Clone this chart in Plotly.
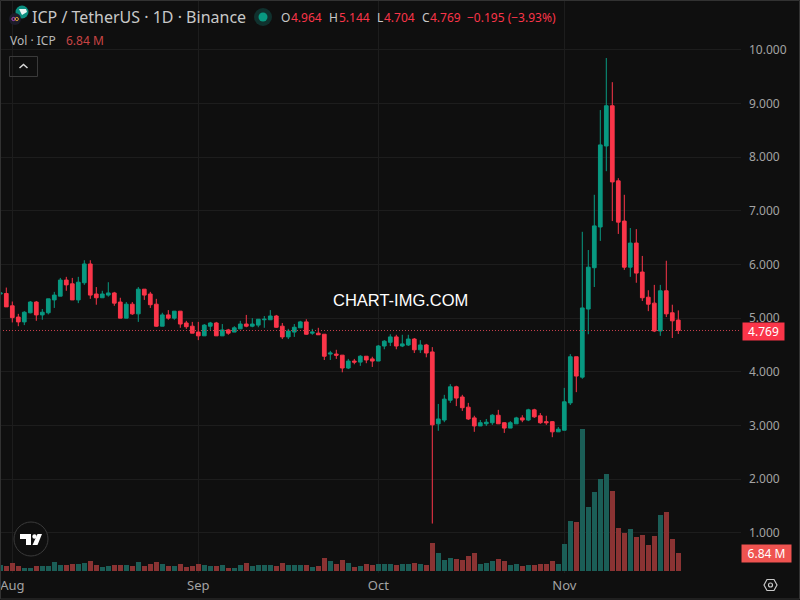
import plotly.graph_objects as go
import pandas as pd

start_date = "2025-07-30"

opens = [5.45, 5.46, 5.23, 5.02, 4.93, 5.10, 5.30, 5.06, 5.10, 5.34, 5.41, 5.71, 5.64, 5.34, 5.66, 6.01,
         5.45, 5.38, 5.43, 5.47, 5.30, 5.00, 5.26, 5.08, 5.54, 5.45, 5.26, 4.85, 5.06, 5.00, 5.13, 4.91, 4.85,
         4.74, 4.67, 4.85, 4.91, 4.67, 4.78, 4.74, 4.80, 4.89, 4.85, 4.87, 4.97, 4.97, 5.04, 4.85, 4.65, 4.74,
         4.82, 4.93, 4.72, 4.72, 4.70, 4.33, 4.33, 4.31, 4.07, 4.20, 4.18, 4.29, 4.24,
         4.20, 4.48, 4.55, 4.65, 4.48, 4.50, 4.61, 4.41, 4.50, 4.37, 3.03, 3.10, 3.47, 3.72, 3.53, 3.34, 3.14,
         2.99, 3.03, 3.05, 3.19, 3.05, 2.95, 3.03, 3.14, 3.10, 3.29, 3.18, 3.07, 3.07, 2.88,
         2.91, 3.42, 4.28, 3.90, 5.17, 5.94, 6.70, 8.21, 8.96, 7.56, 6.81, 5.95, 6.40, 5.86, 5.39, 5.28, 4.76,
         5.51, 5.10, 4.964]
highs = [5.47, 5.57, 5.31, 5.08, 5.13, 5.32, 5.32, 5.17, 5.36, 5.49, 5.75, 5.77, 5.75, 5.77, 6.08, 6.08,
         5.58, 5.51, 5.67, 5.49, 5.38, 5.30, 5.30, 5.58, 5.54, 5.49, 5.36, 5.10, 5.15, 5.13, 5.13, 4.95, 4.93,
         4.93, 4.89, 4.93, 4.93, 4.89, 4.80, 4.85, 4.95, 5.06, 5.00, 4.98, 5.04, 5.15, 5.06, 4.91, 4.80, 4.89,
         4.95, 4.98, 4.80, 4.82, 4.70, 4.39, 4.41, 4.31, 4.24, 4.24, 4.31, 4.29, 4.28,
         4.50, 4.59, 4.70, 4.69, 4.69, 4.69, 4.63, 4.59, 4.52, 4.46, 3.40, 3.57, 3.77, 3.74, 3.57, 3.42, 3.18,
         3.10, 3.12, 3.21, 3.29, 3.06, 3.08, 3.16, 3.19, 3.31, 3.31, 3.23, 3.18, 3.08, 2.97,
         3.70, 4.33, 4.28, 6.61, 6.27, 7.30, 8.88, 9.85, 9.40, 7.61, 7.30, 6.68, 6.66, 6.16, 5.52, 5.62, 5.62,
         6.07, 5.25, 5.144]
lows = [5.45, 5.21, 4.92, 4.85, 4.87, 5.09, 4.95, 4.97, 5.07, 5.19, 5.41, 5.51, 5.34, 5.28, 5.62, 5.36,
        5.25, 5.38, 5.40, 5.23, 5.00, 5.00, 5.06, 4.93, 5.34, 5.19, 4.84, 4.85, 4.97, 4.97, 4.82, 4.80, 4.72,
        4.59, 4.67, 4.78, 4.67, 4.67, 4.69, 4.74, 4.80, 4.83, 4.83, 4.83, 4.82, 4.97, 4.82, 4.61, 4.61, 4.65,
        4.82, 4.69, 4.69, 4.69, 4.22, 4.22, 4.24, 3.99, 4.05, 4.14, 4.11, 4.16, 4.09,
        4.20, 4.42, 4.48, 4.42, 4.46, 4.48, 4.35, 4.35, 4.27, 1.17, 2.90, 3.06, 3.42, 3.36, 3.27, 3.10, 2.88,
        2.99, 2.99, 3.01, 3.03, 2.86, 2.95, 3.03, 3.06, 3.08, 3.14, 3.03, 3.01, 2.78, 2.88,
        2.91, 3.38, 3.62, 3.87, 4.70, 5.58, 6.44, 7.74, 6.81, 6.57, 5.90, 5.77, 5.66, 5.32, 5.13, 4.74, 4.67,
        5.02, 4.63, 4.704]
closes = [5.47, 5.21, 5.01, 4.93, 5.11, 5.30, 5.06, 5.11, 5.36, 5.43, 5.71, 5.62, 5.34, 5.67, 6.01, 5.43,
          5.38, 5.45, 5.47, 5.28, 5.00, 5.26, 5.08, 5.54, 5.43, 5.25, 4.85, 5.06, 5.00, 5.13, 4.89, 4.84, 4.72,
          4.67, 4.87, 4.91, 4.67, 4.78, 4.72, 4.82, 4.89, 4.85, 4.89, 4.98, 4.98, 5.04, 4.83, 4.65, 4.76, 4.83,
          4.93, 4.70, 4.74, 4.69, 4.29, 4.35, 4.31, 4.07, 4.20, 4.18, 4.29, 4.22, 4.20,
          4.48, 4.57, 4.65, 4.48, 4.52, 4.61, 4.41, 4.50, 4.35, 3.01, 3.12, 3.49, 3.72, 3.51, 3.33, 3.12, 2.99,
          3.05, 3.06, 3.19, 3.03, 2.95, 3.05, 3.14, 3.10, 3.29, 3.16, 3.05, 3.05, 2.88, 2.93,
          3.44, 4.28, 3.92, 5.19, 5.95, 6.72, 8.23, 8.96, 7.54, 6.79, 5.95, 6.40, 5.84, 5.38, 5.26, 4.76, 5.51,
          5.08, 4.95, 4.769]
volumes = [2.28, 1.90, 3.04, 1.90, 1.14, 1.14, 1.90, 1.90, 1.90, 3.42, 2.28, 2.28, 2.66, 2.66, 3.04, 3.80,
           2.28, 1.52, 1.90, 2.28, 2.28, 2.28, 1.90, 3.42, 1.90, 2.66, 3.42, 2.66, 1.90, 1.90, 2.66, 1.52, 1.90,
           2.66, 2.28, 1.90, 1.90, 2.28, 1.14, 1.14, 2.28, 3.04, 1.90, 2.28, 2.28, 2.28, 1.90, 3.04, 2.28, 2.28,
           2.28, 2.28, 1.52, 1.90, 4.94, 3.80, 2.66, 4.18, 3.04, 1.52, 1.90, 2.66, 2.28,
           2.66, 2.66, 2.66, 2.28, 2.66, 2.66, 3.04, 2.66, 2.28, 10.64, 6.84, 4.18, 4.94, 4.56, 4.18, 5.70, 6.84,
           2.66, 3.04, 3.80, 4.56, 3.80, 2.28, 2.66, 1.90, 2.28, 2.28, 2.66, 2.66, 3.80, 2.66,
           10.26, 19.0, 18.6, 54.0, 24.3, 30.0, 35.0, 36.9, 30.4, 16.3, 14.4, 16.0, 12.9, 13.7, 9.9, 13.3, 21.3,
           22.4, 12.2, 6.84]

price_ticks = [1, 2, 3, 4, 5, 6, 7, 8, 9, 10]
price_labels = ["1.000", "2.000", "3.000", "4.000", "5.000", "6.000", "7.000", "8.000", "9.000", "10.000"]
month_ticks = ["2025-08-01", "2025-09-01", "2025-10-01", "2025-11-01"]
month_labels = ["Aug", "Sep", "Oct", "Nov"]

dates = pd.date_range(start_date, periods=len(closes), freq="D")

GREEN = "#089981"
RED = "#FA3549"
GREY = "#a3a3a3"
FONT = "Noto Sans"

# pane is 741x573, everything decorative is placed in screen pixels
PANE_W = 741
PANE_H = 573


def px(x):
    return x / PANE_W


def py(y):
    return 1 - y / PANE_H


def circle(cx, cy, r, **kw):
    return dict(type="circle", xref="paper", yref="paper", x0=px(cx - r), x1=px(cx + r),
                y0=py(cy - r), y1=py(cy + r), **kw)


def poly(points, **kw):
    path = "M " + " L ".join(f"{px(x):.5f} {py(y):.5f}" for x, y in points) + " Z"
    return dict(type="path", xref="paper", yref="paper", path=path, **kw)


def label(x, y, text, color=GREY, size=12, anchor="left", **kw):
    return dict(xref="paper", yref="paper", x=px(x), y=py(y), text=text, showarrow=False,
                xanchor=anchor, yanchor="middle",
                font=dict(family=FONT, size=size, color=color), **kw)


fig = go.Figure()

fig.add_trace(go.Bar(
    x=dates, y=volumes, yaxis="y",
    marker=dict(color=["#1B5E57" if c >= o else "#8A3333" for o, c in zip(opens, closes)], line_width=0),
    width=5 * 86400000 / 6,
    showlegend=False,
))
fig.add_trace(go.Candlestick(
    x=dates, open=opens, high=highs, low=lows, close=closes, yaxis="y2",
    increasing=dict(line=dict(color=GREEN, width=1), fillcolor=GREEN),
    decreasing=dict(line=dict(color=RED, width=1), fillcolor=RED),
    whiskerwidth=0,
    showlegend=False,
))

shapes = [
    # last price line
    dict(type="line", xref="paper", yref="y2", x0=0, x1=1, y0=closes[-1], y1=closes[-1],
         line=dict(color="#C9414E", width=1, dash="1px,2px")),
    # frame
    poly([(0.5, 0.5), (799.5, 0.5), (799.5, 599), (0.5, 599)], line=dict(color="#333333", width=1)),
    # symbol logos
    circle(22, 12, 6.5, fillcolor="#0b8f80", line_width=0),
    poly([(19, 9), (26, 9), (27, 12), (22, 15)], fillcolor="#e8f5f3", line_width=0),
    circle(15, 19, 6, fillcolor="#1c1c2a", line_width=0),
    circle(13.5, 19, 1.6, line=dict(color="#b44ec4", width=1)),
    circle(16.8, 19, 1.6, line=dict(color="#e0a030", width=1)),
    # market status dot
    circle(263, 17, 9, fillcolor="#10312e", line_width=0),
    circle(263, 17, 4.5, fillcolor=GREEN, line_width=0),
    # collapse button
    dict(type="rect", xref="paper", yref="paper", x0=px(9.5), x1=px(37.5), y0=py(56.5), y1=py(76.5),
         line=dict(color="#3a3a3a", width=1)),
    dict(type="path", xref="paper", yref="paper",
         path=f"M {px(19.5)} {py(68)} L {px(23.5)} {py(64.5)} L {px(27.5)} {py(68)}",
         line=dict(color="#d8d8d8", width=1.5)),
    # tradingview badge
    circle(31, 539, 17, fillcolor="#0f0f0f", line=dict(color="#3a3a3a", width=1)),
    poly([(20, 534), (31, 534), (31, 545), (26, 545), (26, 539), (20, 539)], fillcolor="#ffffff", line_width=0),
    circle(34.5, 536.5, 2.2, fillcolor="#ffffff", line_width=0),
    poly([(32.5, 545), (37.5, 545), (42, 534), (37.5, 534)], fillcolor="#ffffff", line_width=0),
    # settings icon
    poly([(764, 585), (767, 579.5), (774, 579.5), (777, 585), (774, 590.5), (767, 590.5)],
         line=dict(color="#c8c8c8", width=1.2)),
    circle(770.5, 585, 2, line=dict(color="#c8c8c8", width=1.2)),
]

annotations = [
    label(30, 17, "ICP / TetherUS · 1D · Binance", color="#c8c8c8", size=16),
    label(279, 17, "O", color="#c8c8c8"),
    label(289, 17, "4.964", color=RED),
    label(327, 17, "H", color="#c8c8c8"),
    label(337, 17, "5.144", color=RED),
    label(375, 17, "L", color="#c8c8c8"),
    label(382, 17, "4.704", color=RED),
    label(420, 17, "C", color="#c8c8c8"),
    label(428, 17, "4.769", color=RED),
    label(465, 17, "−0.195 (−3.93%)", color=RED),
    label(8, 41, "Vol · ICP", color="#b8b8b8"),
    label(64, 41, "6.84 M", color="#c94545"),
    label(400, 299.5, "CHART-IMG.COM", color="#ffffff", size=16.5, anchor="center"),
    label(742, 331.5, "4.769", color="#ffffff", bgcolor=RED, width=39, height=15, align="center"),
    label(741, 553.5, "6.84 M", color="#ffffff", bgcolor="#EF5350", width=47, height=15, align="center"),
]
annotations[-3]["font"]["family"] = "Liberation Sans"

fig.update_layout(
    width=800,
    height=600,
    margin=dict(l=0, r=59, t=0, b=27),
    paper_bgcolor="#0f0f0f",
    plot_bgcolor="#0f0f0f",
    bargap=0,
    boxgap=0.12,
    font=dict(family=FONT, size=12, color=GREY),
    xaxis=dict(
        type="date",
        range=["2025-07-29 22:48", "2025-11-30 10:48"],
        tickvals=month_ticks,
        ticktext=month_labels,
        ticks="",
        ticklabelstandoff=3,
        showline=False,
        gridcolor="#1d1d1d",
        gridwidth=1,
        zeroline=False,
        rangeslider=dict(visible=False),
        tickfont=dict(family=FONT, size=13, color=GREY),
    ),
    yaxis=dict(
        range=[-0.76, 216.9],
        showgrid=False,
        showticklabels=False,
        zeroline=False,
        ticks="",
        fixedrange=True,
    ),
    yaxis2=dict(
        overlaying="y",
        side="right",
        anchor="x",
        range=[0.248, 10.932],
        tickvals=price_ticks,
        ticktext=price_labels,
        ticks="",
        ticklabelstandoff=7,
        gridcolor="#1d1d1d",
        gridwidth=1,
        zeroline=False,
        showline=False,
        tickfont=dict(family=FONT, size=12, color=GREY),
    ),
    shapes=shapes,
    annotations=annotations,
)

fig.write_html("out.html", config=dict(displayModeBar=False),
               post_script="document.body.style.margin='0';")
